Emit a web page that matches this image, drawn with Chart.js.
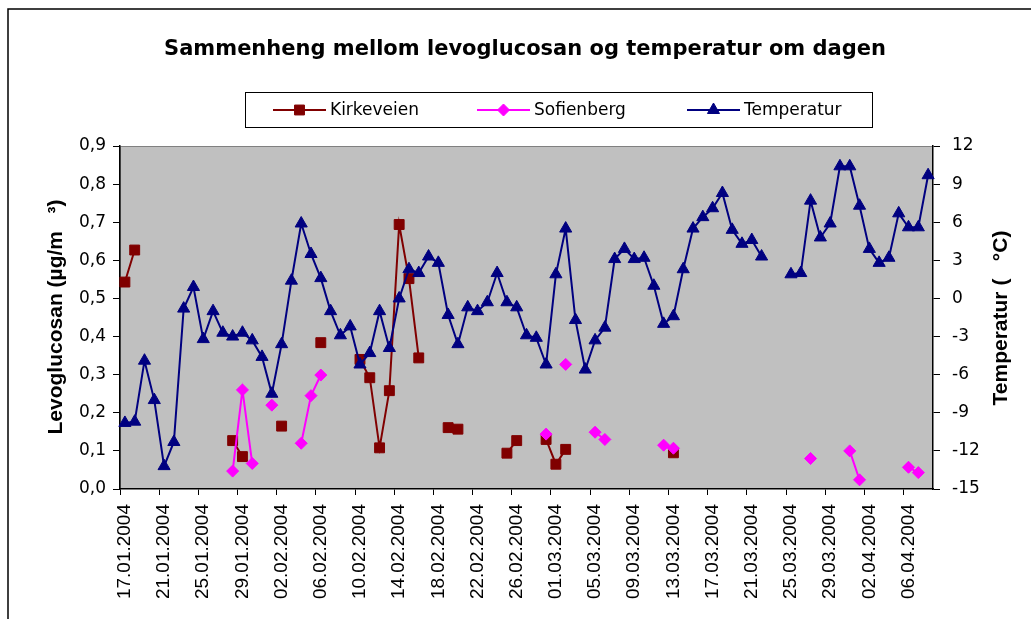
<!DOCTYPE html>
<html>
<head>
<meta charset="utf-8">
<script src="https://cdn.jsdelivr.net/npm/chart.js@4.4.1/dist/chart.umd.min.js"></script>
<style>
  html, body { margin: 0; padding: 0; background: #fff; }
  #wrap { width: 1031px; height: 619px; position: relative; }
</style>
</head>
<body>
<div id="wrap"><canvas id="chart"></canvas></div>
<script>
const dates = [
  "17.01.2004", "18.01.2004", "19.01.2004", "20.01.2004", "21.01.2004", "22.01.2004", "23.01.2004", "24.01.2004",
  "25.01.2004", "26.01.2004", "27.01.2004", "28.01.2004", "29.01.2004", "30.01.2004", "31.01.2004",
  "01.02.2004", "02.02.2004", "03.02.2004", "04.02.2004", "05.02.2004", "06.02.2004", "07.02.2004", "08.02.2004",
  "09.02.2004", "10.02.2004", "11.02.2004", "12.02.2004", "13.02.2004", "14.02.2004", "15.02.2004", "16.02.2004",
  "17.02.2004", "18.02.2004", "19.02.2004", "20.02.2004", "21.02.2004", "22.02.2004", "23.02.2004", "24.02.2004",
  "25.02.2004", "26.02.2004", "27.02.2004", "28.02.2004", "29.02.2004",
  "01.03.2004", "02.03.2004", "03.03.2004", "04.03.2004", "05.03.2004", "06.03.2004", "07.03.2004", "08.03.2004",
  "09.03.2004", "10.03.2004", "11.03.2004", "12.03.2004", "13.03.2004", "14.03.2004", "15.03.2004", "16.03.2004",
  "17.03.2004", "18.03.2004", "19.03.2004", "20.03.2004", "21.03.2004", "22.03.2004", "23.03.2004", "24.03.2004",
  "25.03.2004", "26.03.2004", "27.03.2004", "28.03.2004", "29.03.2004", "30.03.2004", "31.03.2004",
  "01.04.2004", "02.04.2004", "03.04.2004", "04.04.2004", "05.04.2004", "06.04.2004", "07.04.2004", "08.04.2004"
];

// levoglucosan, µg/m3
const kirkeveien = [
  0.543, 0.627, null, null, null, null, null, null, null, null,
  null, 0.127, 0.085, null, null, null, 0.165, null, null, null,
  0.384, null, null, null, 0.340, 0.292, 0.108, 0.258, 0.694, 0.552,
  0.344, null, null, 0.161, 0.157, null, null, null, null, 0.094,
  0.127, null, null, 0.130, 0.065, 0.104, null, null, null, null,
  null, null, null, null, null, null, 0.095, null, null, null,
  null, null, null, null, null, null, null, null, null, null,
  null, null, null, null, null, null, null, null, null, null,
  null, null, null
];

const sofienberg = [
  null, null, null, null, null, null, null, null, null, null,
  null, 0.047, 0.260, 0.067, null, 0.220, null, null, 0.120, 0.245,
  0.299, null, null, null, null, null, null, null, null, null,
  null, null, null, null, null, null, null, null, null, null,
  null, null, null, 0.144, null, 0.327, null, null, 0.149, 0.130,
  null, null, null, null, null, 0.115, 0.107, null, null, null,
  null, null, null, null, null, null, null, null, null, null,
  0.080, null, null, null, 0.100, 0.024, null, null, null, null,
  0.057, 0.043, null
];

// °C
const temperatur = [
  -9.8, -9.7, -4.9, -8.0, -13.2, -11.3, -0.8, 0.9, -3.2, -1.0,
  -2.7, -3.0, -2.7, -3.3, -4.6, -7.5, -3.6, 1.4, 5.9, 3.5,
  1.6, -1.0, -2.9, -2.2, -5.2, -4.3, -1.0, -3.9, 0.0, 2.3,
  2.0, 3.3, 2.8, -1.3, -3.6, -0.7, -1.0, -0.3, 2.0, -0.3,
  -0.7, -2.9, -3.1, -5.2, 1.9, 5.5, -1.7, -5.6, -3.3, -2.3,
  3.1, 3.9, 3.1, 3.2, 1.0, -2.0, -1.4, 2.3, 5.5, 6.4,
  7.1, 8.3, 5.4, 4.3, 4.6, 3.3, null, null, 1.9, 2.0,
  7.7, 4.8, 5.9, 10.4, 10.4, 7.3, 3.9, 2.8, 3.2, 6.7,
  5.6, 5.6, 9.7
];

const titleText = "Sammenheng mellom levoglucosan og temperatur om dagen";
const leftTitle = "Levoglucosan (µg/m   ³)";
const rightTitle = "Temperatur (   °C)";

const tickFont = { family: "DejaVu Sans", size: 17 };

// legend box + titles drawn by hand, Excel style
const decorations = {
  id: "decorations",
  beforeDraw(chart) {
    const { ctx, chartArea: a } = chart;
    ctx.save();
    ctx.fillStyle = "#fff";
    ctx.fillRect(0, 0, chart.width, chart.height);
    ctx.strokeStyle = "#000";
    ctx.lineWidth = 1.5;
    ctx.beginPath();
    ctx.moveTo(8, chart.height);
    ctx.lineTo(8, 9);
    ctx.lineTo(chart.width, 9);
    ctx.stroke();
    ctx.fillStyle = "#c0c0c0";
    ctx.fillRect(a.left, a.top, a.right - a.left, a.bottom - a.top);
    ctx.strokeStyle = "#808080";
    ctx.lineWidth = 1;
    ctx.strokeRect(a.left + 0.5, a.top + 0.5, a.right - a.left - 1, a.bottom - a.top - 1);
    ctx.restore();
  },
  afterDraw(chart) {
    const ctx = chart.ctx;
    ctx.save();
    ctx.fillStyle = "#000";
    ctx.textAlign = "center";
    ctx.textBaseline = "middle";
    ctx.font = "bold 21px 'DejaVu Sans'";
    ctx.fillText(titleText, 525, 50);

    // axis titles, both read upwards
    ctx.font = "bold 21px 'Liberation Sans'";
    ctx.save();
    ctx.translate(56, 317);
    ctx.rotate(-Math.PI / 2);
    ctx.fillText(leftTitle, 0, 0);
    ctx.restore();
    ctx.save();
    ctx.translate(1001, 318);
    ctx.rotate(-Math.PI / 2);
    ctx.fillText(rightTitle, 0, 0);
    ctx.restore();

    // legend
    ctx.strokeStyle = "#000";
    ctx.lineWidth = 1;
    ctx.strokeRect(245.5, 92.5, 627, 35);
    const slots = [273, 477, 687];
    ctx.font = "17px 'DejaVu Sans'";
    ctx.textAlign = "left";
    chart.data.datasets.forEach((ds, i) => {
      const x = slots[i], y = 110;
      ctx.strokeStyle = ds.borderColor;
      ctx.lineWidth = ds.borderWidth;
      ctx.beginPath();
      ctx.moveTo(x, y);
      ctx.lineTo(x + 53, y);
      ctx.stroke();
      ctx.fillStyle = ds.pointBackgroundColor;
      ctx.strokeStyle = ds.pointBorderColor;
      ctx.lineWidth = 1;
      Chart.helpers.drawPoint(ctx, { pointStyle: ds.pointStyle, rotation: 0, radius: ds.pointRadius, borderWidth: 1 }, x + 26.5, y);
      ctx.fillStyle = "#000";
      ctx.fillText(ds.label, x + 57, y + 1);
    });
    ctx.restore();
  }
};

const makeSet = (label, data, color, style, radius, axis, order) => ({
  label: label,
  data: data,
  yAxisID: axis,
  order: order,
  borderColor: color,
  backgroundColor: color,
  borderWidth: 2,
  pointStyle: style,
  pointRadius: radius,
  pointBackgroundColor: color,
  pointBorderColor: color,
  pointBorderWidth: 1,
  spanGaps: false,
  tension: 0
});

new Chart(document.getElementById("chart"), {
  type: "line",
  data: {
    labels: dates,
    datasets: [
      makeSet("Kirkeveien", kirkeveien, "#800000", "rect", 7, "y", 2),
      makeSet("Sofienberg", sofienberg, "#ff00ff", "rectRot", 6, "y", 1),
      makeSet("Temperatur", temperatur, "#000080", "triangle", 7, "y1", 0)
    ]
  },
  options: {
    responsive: true,
    maintainAspectRatio: false,
    animation: false,
    layout: { padding: { top: 146, left: 0, right: 0, bottom: 0 } },
    plugins: {
      legend: { display: false },
      title: { display: false },
      tooltip: { enabled: false }
    },
    scales: {
      x: {
        type: "category",
        offset: true,
        afterFit: (scale) => { scale.height = 130; },
        grid: {
          offset: true,
          drawOnChartArea: false,
          tickLength: 6,
          color: (c) => (c.index % 4 === 0 ? "#000" : "rgba(0,0,0,0)")
        },
        border: { color: "#000", width: 1.5 },
        ticks: {
          autoSkip: false,
          minRotation: 90,
          maxRotation: 90,
          padding: 9,
          color: "#000",
          font: { family: "Liberation Sans", size: 19 },
          callback: function (value, index) {
            return index % 4 === 0 ? this.getLabelForValue(value) : "";
          }
        }
      },
      y: {
        position: "left",
        min: 0,
        max: 0.9,
        afterFit: (scale) => { scale.width = 120; },
        grid: { drawOnChartArea: false, tickLength: 7, color: "#000" },
        border: { color: "#000", width: 1.5 },
        ticks: {
          stepSize: 0.1,
          padding: 7,
          color: "#000",
          font: tickFont,
          callback: (v) => v.toFixed(1).replace(".", ",")
        }
      },
      y1: {
        position: "right",
        min: -15,
        max: 12,
        afterFit: (scale) => { scale.width = 98; },
        grid: { drawOnChartArea: false, tickLength: 7, color: "#000" },
        border: { color: "#000", width: 1.5 },
        ticks: {
          stepSize: 3,
          padding: 12,
          color: "#000",
          font: tickFont
        }
      }
    }
  },
  plugins: [decorations]
});
</script>
</body>
</html>
